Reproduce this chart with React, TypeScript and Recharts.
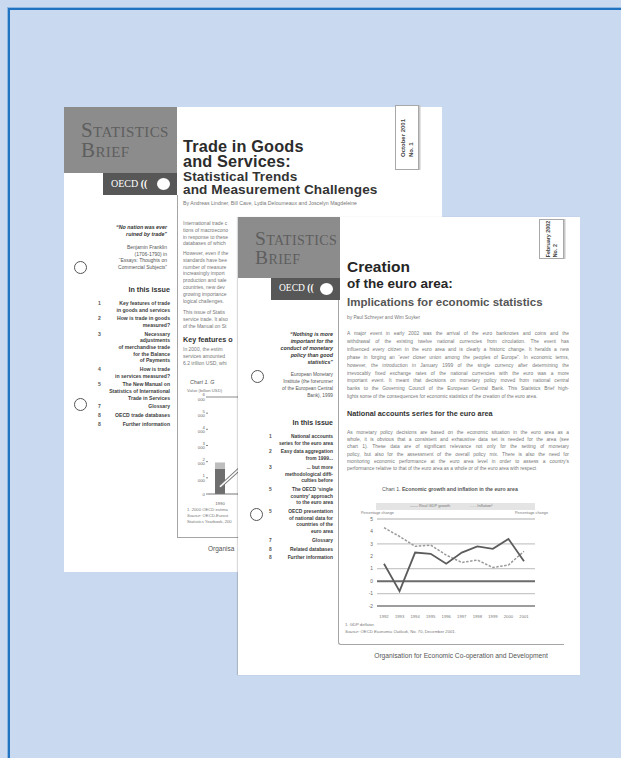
import type { CSSProperties, ReactNode } from "react";
import {
  LineChart,
  Line,
  XAxis,
  YAxis,
  CartesianGrid,
  ReferenceLine,
  ComposedChart,
  Bar,
} from "recharts";

// Chart 1 of the front brief: euro area growth and inflation
const years = ["1992", "1993", "1994", "1995", "1996", "1997", "1998", "1999", "2000", "2001"];
const realGdpGrowth = [1.4, -0.8, 2.3, 2.2, 1.4, 2.3, 2.8, 2.6, 3.4, 1.6];
const inflation = [4.3, 3.6, 2.8, 2.9, 2.1, 1.5, 1.7, 1.1, 1.3, 2.4];
const percentTicks = [-2, -1, 0, 1, 2, 3, 4, 5];
const betweenYears = [0.5, 1.5, 2.5, 3.5, 4.5, 5.5, 6.5, 7.5, 8.5];

// Chart 1 of the brief underneath, only its left edge shows
const tradeYears = ["1990", "1991"];
const shownTradeYears = ["1990"];
const goodsTrade = [1550, null];
const servicesTrade = [400, null];
const tradeTrend = [450, 1800];
const valueTicks = [0, 1000, 2000, 3000, 4000, 5000, 6000];

const SANS = "'Liberation Sans', Arial, sans-serif";
const SERIF = "'Liberation Serif', 'DejaVu Serif', serif";

const euroData = years.map((year, i) => ({
  year,
  gdp: realGdpGrowth[i],
  inflation: inflation[i],
}));

const tradeData = tradeYears.map((year, i) => ({
  year,
  goods: goodsTrade[i],
  services: servicesTrade[i],
  trend: tradeTrend[i],
}));

interface TxtProps {
  x: number;
  y: number;
  size: number;
  children: ReactNode;
  anchor?: "start" | "end" | "middle";
  color?: string;
  weight?: number;
  italic?: boolean;
  family?: string;
}

// y is the middle of the line
function Txt({ x, y, size, children, anchor = "start", color = "#666", weight, italic, family = SANS }: TxtProps) {
  const style: CSSProperties = {
    position: "absolute",
    top: y - size * 0.6,
    fontSize: size,
    lineHeight: `${size * 1.2}px`,
    whiteSpace: "nowrap",
    fontFamily: family,
    color,
    fontWeight: weight,
    fontStyle: italic ? "italic" : undefined,
  };
  if (anchor === "end") style.right = 621 - x;
  else if (anchor === "middle") {
    style.left = x;
    style.transform = "translateX(-50%)";
  } else style.left = x;
  return <div style={style}>{children}</div>;
}

// several lines of one title as a single text, y is the middle of the first line
function Title({ x, y, size, step, text, color, spacing = 0 }: { x: number; y: number; size: number; step: number; text: string; color: string; spacing?: number }) {
  return (
    <div
      style={{
        position: "absolute",
        left: x,
        top: y - step / 2,
        fontSize: size,
        lineHeight: `${step}px`,
        whiteSpace: "pre",
        fontFamily: SANS,
        fontWeight: 700,
        letterSpacing: spacing,
        color,
      }}
    >
      {text}
    </div>
  );
}

function Para({ x, y, width, step, size, lines, color = "#777", justify = true }: { x: number; y: number; width: number; step: number; size: number; lines: string[]; color?: string; justify?: boolean }) {
  return (
    <>
      {lines.map((t, i) => (
        <div
          key={i}
          style={{
            position: "absolute",
            left: x,
            top: y + i * step - size * 0.6,
            width,
            height: size * 1.2,
            overflow: "hidden",
            whiteSpace: justify ? "normal" : "nowrap",
            fontSize: size,
            lineHeight: `${size * 1.2}px`,
            textAlign: justify ? "justify" : "left",
            textAlignLast: justify && i < lines.length - 1 ? "justify" : "left",
            color,
            fontFamily: SANS,
          }}
        >
          {t}
        </div>
      ))}
    </>
  );
}

function Issue({ numX, textX, y, step, gap, size, items }: { numX: number; textX: number; y: number; step: number; gap: number; size: number; items: [string, string[]][] }) {
  let cy = y;
  const out: ReactNode[] = [];
  items.forEach(([num, lines], k) => {
    out.push(
      <Txt key={`n${k}`} x={numX} y={cy} size={size} color="#555" weight={700}>
        {num}
      </Txt>,
    );
    lines.forEach((l, j) => {
      out.push(
        <Txt key={`t${k}-${j}`} x={textX} y={cy} size={size} anchor="end" color="#3c3c3c" weight={700}>
          {l}
        </Txt>,
      );
      cy += step;
    });
    cy += gap;
  });
  return <>{out}</>;
}

function Hole({ x, y }: { x: number; y: number }) {
  return (
    <div
      style={{
        position: "absolute",
        left: x - 6,
        top: y - 6,
        width: 11,
        height: 11,
        border: "1px solid #555",
        borderRadius: "50%",
        background: "#fff",
      }}
    />
  );
}

function Masthead({ x, y, w, h, barX, barH, big, small }: { x: number; y: number; w: number; h: number; barX: number; barH: number; big: number; small: number }) {
  const right = x + w;
  return (
    <>
      <div style={{ position: "absolute", left: x, top: y, width: w, height: h, background: "#8c8c8c" }} />
      <div style={{ position: "absolute", left: barX, top: y + h, width: right - barX, height: barH, background: "#575757" }} />
      <div
        style={{
          position: "absolute",
          left: x + 17,
          top: y + 13,
          fontFamily: SERIF,
          fontVariant: "small-caps",
          fontSize: big,
          lineHeight: `${big * 0.97}px`,
          whiteSpace: "pre",
          color: "#5e5e5e",
          letterSpacing: 0.4,
        }}
      >
        {"Statistics\nBrief"}
      </div>
      <div
        style={{
          position: "absolute",
          left: barX + 8,
          top: y + h + barH / 2 - small * 0.6,
          fontFamily: SERIF,
          fontSize: small,
          lineHeight: `${small * 1.2}px`,
          color: "#fff",
          whiteSpace: "nowrap",
        }}
      >
        OECD <b>((</b>
      </div>
      <div
        style={{
          position: "absolute",
          left: right - 20,
          top: y + h + barH / 2 - 6,
          width: 13,
          height: 12,
          borderRadius: "50%",
          background: "#fff",
        }}
      />
    </>
  );
}

function DateTab({ x, y, w, h, text, size }: { x: number; y: number; w: number; h: number; text: string; size: number }) {
  return (
    <div
      style={{
        position: "absolute",
        left: x,
        top: y,
        width: w,
        height: h,
        border: "1px solid #a8a8a8",
        boxShadow: "1.5px 0 0 #c8c8c8",
        background: "#fff",
      }}
    >
      <div
        style={{
          position: "absolute",
          left: "50%",
          top: "50%",
          transform: "translate(-50%, -50%) rotate(-90deg)",
          whiteSpace: "pre",
          fontFamily: SANS,
          fontSize: size,
          lineHeight: `${size * 1.35}px`,
          fontWeight: 700,
          color: "#444",
        }}
      >
        {text}
      </div>
    </div>
  );
}

const box = (left: number, top: number, width: number, height: number, extra: CSSProperties = {}): CSSProperties => ({
  position: "absolute",
  left,
  top,
  width,
  height,
  ...extra,
});

function BackBrief() {
  return (
    <div style={box(0, 0, 621, 758)}>
      <div style={box(64, 107, 378, 465, { background: "#fff" })} />
      <Masthead x={64} y={107} w={113} h={66} barX={103} barH={22} big={21} small={10} />

      <Title x={183} y={146.5} size={16.3} step={15} text={"Trade in Goods\nand Services:"} color="#2c2c2c" spacing={0.15} />
      <Title x={183} y={176.5} size={13.6} step={13.5} text={"Statistical Trends\nand Measurement Challenges"} color="#333" spacing={0.1} />
      <Txt x={183} y={203} size={5.2} color="#777">
        By Andreas Lindner, Bill Cave, Lydia Deloumeaux and Joscelyn Magdeleine
      </Txt>
      <DateTab x={395} y={105} w={22} h={63} size={6} text={"October 2001\nNo. 1"} />

      {/* the front brief hides everything right of x = 238 below its top edge,
          so only the visible start of each line is written */}
      <div style={box(0, 0, 238, 758, { overflow: "hidden" })}>
        <div style={box(177, 195, 258, 342, { borderLeft: "1px solid #a5a5a5", borderBottom: "1px solid #a5a5a5" })} />
        <Para
          x={183}
          y={223}
          width={55}
          step={6.8}
          size={5}
          justify={false}
          lines={["International trade c", "tions of macroecono", "in response to these", "databases of which"]}
        />
        <Para
          x={183}
          y={253}
          width={55}
          step={6.8}
          size={5}
          justify={false}
          lines={[
            "However, even if the",
            "standards have bee",
            "number of measure",
            "increasingly import",
            "production and sale",
            "countries, new dev",
            "growing importance",
            "logical challenges.",
          ]}
        />
        <Para
          x={183}
          y={312}
          width={55}
          step={6.8}
          size={5}
          justify={false}
          lines={["This issue of Statis", "service trade. It also", "of the Manual on St"]}
        />
        <Txt x={183} y={340} size={7.2} color="#333" weight={700}>Key features o</Txt>
        <Para
          x={183}
          y={349}
          width={55}
          step={6.8}
          size={5}
          justify={false}
          lines={["In 2000, the estim", "services amounted", "6.2 trillion USD, whi"]}
        />
        <Txt x={190} y={382} size={5.3} color="#555" italic>Chart 1.   G</Txt>
        <Txt x={187} y={391} size={4.2} color="#777">Value (billion USD)</Txt>

        <div style={box(180, 390, 90, 116)}>
          <ComposedChart width={90} height={116} data={tradeData} margin={{ top: 7, right: 14, bottom: 4, left: 0 }}>
            <XAxis
              dataKey="year"
              height={8}
              ticks={shownTradeYears}
              tickLine={false}
              axisLine={{ stroke: "#777" }}
              tick={{ fontSize: 4.3, fill: "#666", fontFamily: SANS }}
              tickMargin={2}
              interval={0}
            />
            <YAxis
              domain={[0, 6000]}
              ticks={valueTicks}
              width={28}
              axisLine={false}
              tickLine={{ stroke: "#888" }}
              tickSize={2}
              tickMargin={1}
              tick={{ fontSize: 4.3, fill: "#666", fontFamily: SANS }}
              tickFormatter={(v: number) => v.toLocaleString("en-US").replace(",", " ")}
            />
            <ReferenceLine y={6000} stroke="#8a8a8a" />
            <Bar dataKey="goods" stackId="t" fill="#6e6e6e" barSize={10} isAnimationActive={false} />
            <Bar dataKey="services" stackId="t" fill="#bdbdbd" barSize={10} isAnimationActive={false} />
            <Line dataKey="trend" stroke="#7a7a7a" strokeWidth={3.4} dot={false} isAnimationActive={false} />
            <Line dataKey="trend" stroke="#fff" strokeWidth={1.6} dot={false} isAnimationActive={false} />
          </ComposedChart>
        </div>

        <Txt x={187} y={510} size={4.2} color="#777">1.    2000 OECD estima</Txt>
        <Txt x={187} y={516} size={4.2} color="#777">
          <i>Source:</i>    OECD-Eurost
        </Txt>
        <Txt x={187} y={522} size={4.2} color="#777">Statistics Yearbook, 200</Txt>
        <Txt x={208} y={549} size={6.5} color="#555">Organisa</Txt>
      </div>

      <Txt x={167} y={227} size={5.3} anchor="end" color="#333" weight={700} italic>“No nation was ever</Txt>
      <Txt x={167} y={234} size={5.3} anchor="end" color="#333" weight={700} italic>ruined by trade”</Txt>
      <Txt x={167} y={247} size={5} anchor="end" color="#555">Benjamin Franklin</Txt>
      <Txt x={167} y={253.5} size={5} anchor="end" color="#555">(1706-1790) in</Txt>
      <Txt x={167} y={260} size={5} anchor="end" color="#555">“Essays: Thoughts on</Txt>
      <Txt x={167} y={266.5} size={5} anchor="end" color="#555">Commercial Subjects”</Txt>
      <Hole x={80} y={267} />

      <Txt x={170} y={290} size={7.2} anchor="end" color="#333" weight={700}>In this issue</Txt>
      <Issue
        numX={98}
        textX={170}
        y={303}
        step={6.6}
        gap={2.2}
        size={5.1}
        items={[
          ["1", ["Key features of trade", "in goods and services"]],
          ["2", ["How is trade in goods", "measured?"]],
          ["3", ["Necessary", "adjustments", "of merchandise trade", "for the Balance", "of Payments"]],
          ["4", ["How is trade", "in services measured?"]],
          ["5", ["The New Manual on", "Statistics of International", "Trade in Services"]],
          ["7", ["Glossary"]],
          ["8", ["OECD trade databases"]],
          ["8", ["Further information"]],
        ]}
      />
      <Hole x={80} y={404} />
    </div>
  );
}

function FrontBrief() {
  return (
    <div style={box(0, 0, 621, 758)}>
      <div style={box(238, 217, 342, 458, { background: "#fff", boxShadow: "-1px 0 1px rgba(0,0,0,0.15)" })} />
      <Masthead x={238} y={217} w={102} h={61} barX={271} barH={22} big={19.5} small={9.5} />
      <div
        style={box(338, 300, 225, 344, {
          borderLeft: "1px solid #a5a5a5",
          borderBottom: "1.5px solid #a5a5a5",
          borderBottomLeftRadius: 3,
        })}
      />
      <DateTab x={539} y={219} w={23} h={38} size={5.4} text={"February 2002\nNo. 2"} />

      <Txt x={347} y={267} size={15.5} color="#262626" weight={700}>Creation</Txt>
      <Txt x={347} y={284} size={13.5} color="#262626" weight={700}>of the euro area:</Txt>
      <Txt x={347} y={303} size={11.5} color="#555" weight={700}>Implications for economic statistics</Txt>
      <Txt x={347} y={318} size={4.8} color="#777">by Paul Schreyer and Wim Suyker</Txt>

      <Para
        x={347}
        y={334}
        width={222}
        step={7.9}
        size={4.9}
        lines={[
          "A major event in early 2002 was the arrival of the euro banknotes and coins and the",
          "withdrawal of the existing twelve national currencies from circulation. The event has",
          "influenced every citizen in the euro area and is clearly a historic change. It heralds a new",
          "phase in forging an “ever closer union among the peoples of Europe”. In economic terms,",
          "however, the introduction in January 1999 of the single currency after determining the",
          "irrevocably fixed exchange rates of the national currencies with the euro was a more",
          "important event. It meant that decisions on monetary policy moved from national central",
          "banks to the Governing Council of the European Central Bank. This Statistics Brief high-",
          "lights some of the consequences for economic statistics of the creation of the euro area.",
        ]}
      />
      <Txt x={347} y={414} size={7.3} color="#333" weight={700}>National accounts series for the euro area</Txt>
      <Para
        x={347}
        y={433}
        width={222}
        step={7.2}
        size={4.9}
        lines={[
          "As monetary policy decisions are based on the economic situation in the euro area as a",
          "whole, it is obvious that a consistent and exhaustive data set is needed for the area (see",
          "chart 1). These data are of significant relevance not only for the setting of monetary",
          "policy, but also for the assessment of the overall policy mix. There is also the need for",
          "monitoring economic performance at the euro area level in order to assess a country’s",
          "performance relative to that of the euro area as a whole or of the euro area with respect",
        ]}
      />

      <Txt x={382} y={489} size={5.2} color="#555">
        Chart 1.      <b>Economic growth and inflation in the euro area</b>
      </Txt>
      <div style={box(376, 503, 159, 7, { background: "#e4e4e4" })} />
      <Txt x={410} y={506.5} size={4} color="#777">—— Real GDP growth</Txt>
      <Txt x={470} y={506.5} size={4} color="#777">- - - Inflation¹</Txt>
      <Txt x={361} y={513.5} size={3.8} color="#777">Percentage change</Txt>
      <Txt x={548} y={513.5} size={3.8} color="#777" anchor="end">Percentage change</Txt>

      <div style={box(352, 500, 206, 125)}>
        <LineChart width={206} height={125} data={euroData} margin={{ top: 19, right: 6, bottom: 7, left: 6 }}>
          <CartesianGrid vertical={false} stroke="#c8c8c8" strokeWidth={1.3} />
          <XAxis
            dataKey="year"
            height={12}
            tickLine={false}
            axisLine={{ stroke: "#8a8a8a", strokeWidth: 1.3 }}
            tick={{ fontSize: 4.2, fill: "#777", fontFamily: SANS }}
            tickMargin={3}
            padding={{ left: 7, right: 11 }}
            interval={0}
          />
          <XAxis
            xAxisId="between"
            type="number"
            domain={[0, 9]}
            ticks={betweenYears}
            orientation="bottom"
            mirror
            height={0}
            tick={false}
            axisLine={false}
            tickLine={{ stroke: "#8a8a8a" }}
            tickSize={3}
            padding={{ left: 7, right: 11 }}
          />
          <YAxis
            domain={[-2, 5]}
            ticks={percentTicks}
            width={19}
            axisLine={false}
            tickLine={false}
            tickSize={0}
            tickMargin={4}
            tick={{ fontSize: 4.8, fill: "#666", fontFamily: SANS }}
          />
          <YAxis
            yAxisId="right"
            orientation="right"
            domain={[-2, 5]}
            ticks={percentTicks}
            width={17}
            axisLine={false}
            tickLine={false}
            tickSize={0}
            tickMargin={5}
            tick={{ fontSize: 4.8, fill: "#666", fontFamily: SANS }}
          />
          <ReferenceLine y={0} stroke="#6b6b6b" strokeWidth={2} />
          <Line
            dataKey="inflation"
            stroke="#9a9a9a"
            strokeWidth={1.5}
            strokeDasharray="2.5 1.5"
            dot={false}
            isAnimationActive={false}
          />
          <Line dataKey="gdp" stroke="#5c5c5c" strokeWidth={1.8} dot={false} isAnimationActive={false} />
        </LineChart>
      </div>

      <Txt x={345} y={625} size={4.2} color="#777">1.    GDP deflator.</Txt>
      <Txt x={345} y={631.5} size={4.2} color="#777">
        <i>Source:</i>    OECD <i>Economic Outlook</i>, No. 70, December 2001.
      </Txt>
      <Txt x={461} y={656} size={6.7} color="#555" anchor="middle">
        Organisation for Economic Co-operation and Development
      </Txt>

      <Txt x={333} y={334} size={5.3} anchor="end" color="#333" weight={700} italic>“Nothing is more</Txt>
      <Txt x={333} y={341} size={5.3} anchor="end" color="#333" weight={700} italic>important for the</Txt>
      <Txt x={333} y={348} size={5.3} anchor="end" color="#333" weight={700} italic>conduct of monetary</Txt>
      <Txt x={333} y={355} size={5.3} anchor="end" color="#333" weight={700} italic>policy than good</Txt>
      <Txt x={333} y={362} size={5.3} anchor="end" color="#333" weight={700} italic>statistics”</Txt>
      <Txt x={333} y={375} size={4.8} anchor="end" color="#555">European Monetary</Txt>
      <Txt x={333} y={382} size={4.8} anchor="end" color="#555">Institute (the forerunner</Txt>
      <Txt x={333} y={389} size={4.8} anchor="end" color="#555">of the European Central</Txt>
      <Txt x={333} y={396} size={4.8} anchor="end" color="#555">Bank), 1999</Txt>
      <Hole x={257} y={376} />

      <Txt x={333} y={423} size={7} anchor="end" color="#333" weight={700}>In this issue</Txt>
      <Issue
        numX={269}
        textX={333}
        y={437}
        step={6.7}
        gap={2}
        size={4.9}
        items={[
          ["1", ["National accounts", "series for the euro area"]],
          ["2", ["Easy data aggregation", "from 1999..."]],
          ["3", ["... but more", "methodological diffi-", "culties before"]],
          ["5", ["The OECD ‘single", "country’ approach", "to the euro area"]],
          ["5", ["OECD presentation", "of national data for", "countries of the", "euro area"]],
          ["7", ["Glossary"]],
          ["8", ["Related databases"]],
          ["8", ["Further information"]],
        ]}
      />
      <Hole x={256} y={514} />
    </div>
  );
}

export default function App() {
  return (
    <div
      style={{
        position: "absolute",
        left: 0,
        top: 0,
        width: 621,
        height: 758,
        overflow: "hidden",
        background: "#c9d9ef",
        fontFamily: SANS,
      }}
    >
      <div
        style={box(8, 8, 640, 780, {
          borderLeft: "2px solid #1f73c1",
          borderTop: "2px solid #1f73c1",
          boxShadow: "-1px -1px 0 #8db7e0",
        })}
      />
      <BackBrief />
      <FrontBrief />
    </div>
  );
}
